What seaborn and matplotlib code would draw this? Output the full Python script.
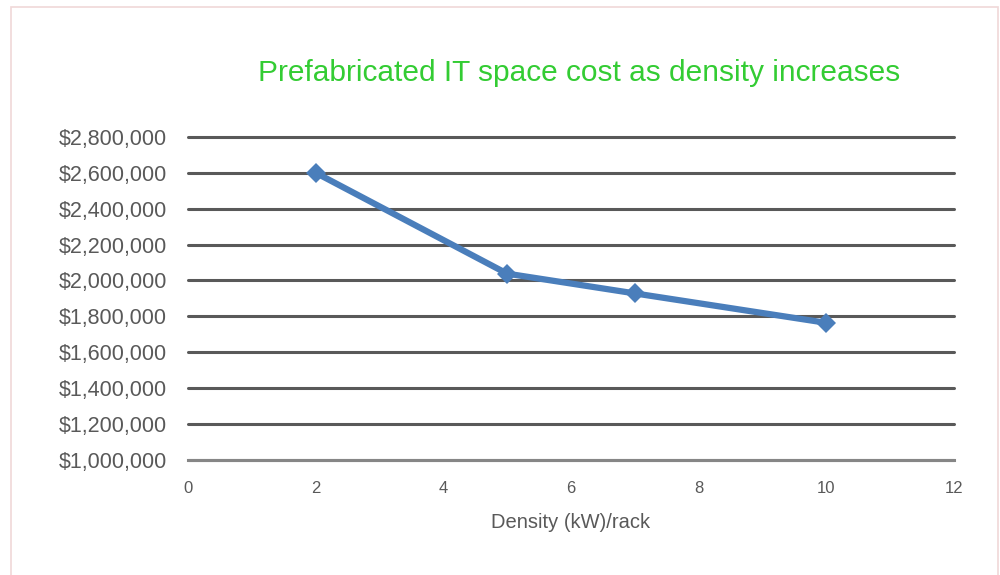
"""Prefabricated IT space cost vs rack density."""

import matplotlib.pyplot as plt
import pandas as pd
import seaborn as sns
from matplotlib.patches import Rectangle
from matplotlib.ticker import FuncFormatter, MultipleLocator

density_kw = [2, 5, 7, 10]
space_cost = [2600000, 2038000, 1928000, 1764000]

sns.set_theme(style="white")
plt.rcParams["font.family"] = ["Liberation Sans", "DejaVu Sans"]

df = pd.DataFrame({"density": density_kw, "cost": space_cost})

fig = plt.figure(figsize=(10, 5.75), dpi=100)
fig.patches.append(
    Rectangle((0.011, -0.01), 0.987, 0.998, transform=fig.transFigure,
              fill=False, edgecolor="#f0d8d8", linewidth=1.2)
)
ax = fig.add_axes([0.188, 0.2, 0.766, 0.562])

sns.lineplot(data=df, x="density", y="cost", ax=ax, color="#4a7ebb",
             linewidth=4.5, marker="D", markersize=10, markeredgewidth=0)

ax.set_xlim(0, 12)
ax.set_ylim(1000000, 2800000)
ax.xaxis.set_major_locator(MultipleLocator(2))
ax.yaxis.set_major_locator(MultipleLocator(200000))
ax.yaxis.set_major_formatter(FuncFormatter(lambda v, _: f"${v:,.0f}"))

ax.grid(axis="y", color="#595959", linewidth=2.2)
ax.set_axisbelow(True)
for gl in ax.get_ygridlines():
    gl.set_clip_on(False)
for side in ["top", "right", "left"]:
    ax.spines[side].set_visible(False)
ax.spines["bottom"].set_color("#868686")
ax.spines["bottom"].set_linewidth(2.2)
ax.spines["bottom"].set_zorder(3)

ax.tick_params(axis="x", colors="#868686", direction="out", length=5,
               width=2, labelsize=12, labelcolor="#595959", pad=10)
ax.tick_params(axis="y", length=0, labelsize=15.5, labelcolor="#595959", pad=15)

ax.set_xlabel("Density (kW)/rack", fontsize=14.5, color="#595959", labelpad=12)
ax.set_ylabel("")
fig.text(0.579, 0.873, "Prefabricated IT space cost as density increases",
         ha="center", va="center", fontsize=21.5, color="#33cc33")

fig.savefig("out.png", dpi=100)
plt.close(fig)
